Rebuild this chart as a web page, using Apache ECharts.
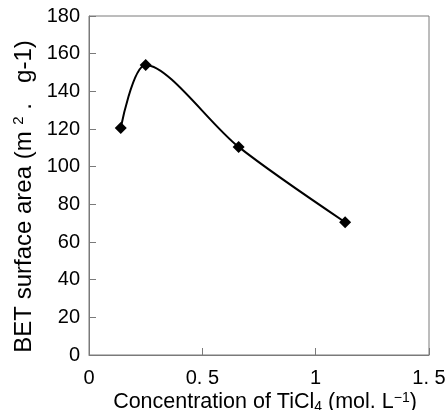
<!DOCTYPE html>
<html><head><meta charset="utf-8">
<script src="https://cdn.jsdelivr.net/npm/echarts@6/dist/echarts.min.js"></script>
<style>html,body{margin:0;padding:0;background:#fff}#c{width:448px;height:410px}</style>
</head><body><div id="c"></div>
<script>
var concentration = [0.14, 0.25, 0.66, 1.13];
var betArea = [120.5, 154, 110.5, 70.5];
var xTickLabels = {0: '0', 0.5: '0. 5', 1: '1', 1.5: '1. 5'};
var yTicks = [0, 20, 40, 60, 80, 100, 120, 140, 160, 180];

var font = 'Liberation Sans, Arial, sans-serif';
var chart = echarts.init(document.getElementById('c'));
chart.setOption({
  animation: false,
  grid: {left: 89, top: 16, right: 19, bottom: 55, show: true, borderColor: '#7a7a7a', borderWidth: 1,
         containLabel: false, outerBoundsMode: 'none'},
  xAxis: {
    type: 'value', min: 0, max: 1.5, interval: 0.5,
    axisLine: {show: true, lineStyle: {color: '#7a7a7a', width: 1}},
    axisTick: {show: true, inside: true, length: 7, lineStyle: {color: '#7a7a7a'}},
    splitLine: {show: false},
    axisLabel: {color: '#000', fontSize: 20, fontFamily: font, margin: 13,
      formatter: function (v) { return xTickLabels[v] !== undefined ? xTickLabels[v] : String(v); }},
    name: 'Concentration of TiCl{sub|4} (mol. L{sup|\u22121})',
    nameLocation: 'middle', nameGap: 36, nameMoveOverlap: false,
    nameTextStyle: {color: '#000', fontSize: 21.5, fontFamily: font, padding: [0, 0, 0, 12],
      rich: {sub: {fontSize: 14, verticalAlign: 'bottom', padding: [9, 0, 0, 0], fontFamily: font, color: '#000'},
             sup: {fontSize: 14, verticalAlign: 'top', padding: [0, 0, 9, 0], fontFamily: font, color: '#000'}}}
  },
  yAxis: {
    type: 'value', min: 0, max: 180, interval: 20,
    axisLine: {show: true, lineStyle: {color: '#7a7a7a', width: 1}},
    axisTick: {show: true, inside: true, length: 7, lineStyle: {color: '#7a7a7a'}},
    splitLine: {show: false},
    axisLabel: {color: '#000', fontSize: 20, fontFamily: font, margin: 9},
    name: 'BET surface area (m {sup|2} .   g-1)',
    nameLocation: 'middle', nameGap: 51, nameRotate: 90, nameMoveOverlap: false,
    nameTextStyle: {color: '#000', fontSize: 24, fontFamily: font, padding: [0, 22, 0, 0],
      rich: {sup: {fontSize: 15, verticalAlign: 'top', padding: [0, 0, 12, 0], fontFamily: font, color: '#000'}}}
  },
  series: [{
    type: 'line',
    data: concentration.map(function (x, i) { return [x, betArea[i]]; }),
    smooth: 0.3,
    symbol: 'diamond', symbolSize: 12,
    itemStyle: {color: '#000'},
    lineStyle: {color: '#000', width: 2}
  }]
});
</script></body></html>
